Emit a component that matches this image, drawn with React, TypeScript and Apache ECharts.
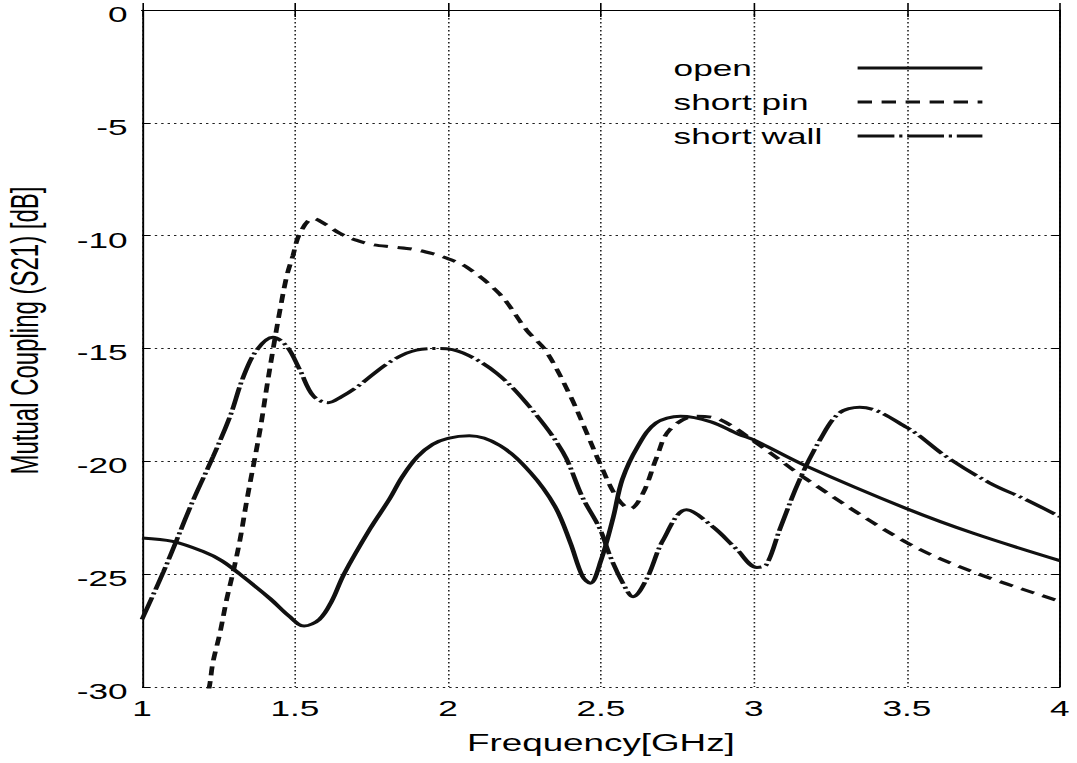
import React, { useEffect, useRef } from "react";
import * as echarts from "echarts";

// ---- data (frequency in GHz, coupling in dB) ----
const openFreq = [1.0, 1.1, 1.2, 1.26, 1.32, 1.42, 1.48, 1.53, 1.58, 1.62, 1.66, 1.745, 1.81, 1.85, 1.9, 1.95, 2.0, 2.07, 2.17, 2.27, 2.35, 2.4, 2.44, 2.465, 2.5, 2.54, 2.57, 2.62, 2.68, 2.76, 2.86, 2.95, 3.0, 3.17, 3.5, 3.72, 4.0];
const openDb = [-23.4, -23.55, -24.0, -24.4, -25.0, -26.1, -26.85, -27.3, -27.0, -26.2, -25.0, -23.0, -21.65, -20.7, -19.8, -19.25, -18.98, -18.87, -19.3, -20.5, -22.0, -23.6, -25.1, -25.4, -24.4, -22.5, -20.8, -19.35, -18.3, -18.0, -18.25, -18.8, -19.05, -20.2, -22.1, -23.2, -24.4];

const pinFreq = [1.205, 1.22, 1.232, 1.255, 1.277, 1.298, 1.32, 1.343, 1.386, 1.408, 1.428, 1.451, 1.473, 1.493, 1.516, 1.56, 1.6, 1.647, 1.7, 1.755, 1.82, 1.886, 1.95, 1.997, 2.062, 2.17, 2.258, 2.32, 2.4, 2.454, 2.497, 2.552, 2.595, 2.638, 2.683, 2.725, 2.81, 2.889, 3.02, 3.173, 3.5, 3.716, 4.0];
const pinDb = [-30.8, -30.0, -28.9, -27.6, -26.1, -24.9, -23.5, -21.7, -18.6, -16.7, -15.07, -13.3, -11.8, -10.9, -9.9, -9.24, -9.5, -9.9, -10.2, -10.4, -10.5, -10.6, -10.8, -11.0, -11.4, -12.6, -14.2, -15.1, -17.1, -18.75, -20.1, -21.6, -22.1, -21.4, -19.8, -18.6, -18.0, -18.15, -19.3, -20.8, -23.6, -24.9, -26.2];

const wallFreq = [1.0, 1.07, 1.113, 1.168, 1.232, 1.288, 1.33, 1.375, 1.428, 1.473, 1.516, 1.56, 1.608, 1.65, 1.703, 1.81, 1.897, 1.974, 2.05, 2.16, 2.268, 2.376, 2.44, 2.497, 2.53, 2.572, 2.605, 2.65, 2.703, 2.78, 2.866, 2.944, 3.01, 3.04, 3.085, 3.15, 3.216, 3.28, 3.346, 3.5, 3.63, 3.77, 3.89, 4.0];
const wallDb = [-27.0, -24.9, -23.5, -21.7, -19.8, -18.0, -16.3, -15.07, -14.5, -14.9, -15.95, -17.1, -17.4, -17.15, -16.7, -15.6, -15.07, -15.0, -15.2, -16.1, -17.6, -19.6, -21.6, -23.0, -24.2, -25.4, -26.0, -25.2, -23.5, -22.15, -22.9, -23.9, -24.7, -24.6, -23.0, -20.8, -19.05, -17.85, -17.6, -18.5, -19.8, -20.95, -21.7, -22.45];

const seriesNames = ["open", "short pin", "short wall"];
const xTickMin = 1, xTickMax = 4, xTickStep = 0.5;
const yTickMin = -30, yTickMax = 0, yTickStep = 5;

const zip = (a: number[], b: number[]) => a.map((v, i) => [v, b[i]]);

const S = 1.6; // horizontal stretch of the picture
const W = 1077, H = 763;
const W0 = W / S;
const FONT = '"Liberation Sans", Arial, Helvetica, sans-serif';
const INK = "#111";
const dashes: any[] = ["solid", [9, 6], [23, 3, 2, 3]];

export default function App() {
  const ref = useRef<HTMLDivElement>(null);
  useEffect(() => {
    if (!ref.current) return;
    const chart = echarts.init(ref.current, null, { renderer: "svg" });
    const axisCommon = {
      type: "value" as const,
      axisLine: { show: true, lineStyle: { color: "#000", width: 1.2 } },
      axisTick: { show: true, inside: true, lineStyle: { color: "#000", width: 1 } },
    };
    const grid = {
      left: 88.75,
      right: W0 - 662.5,
      top: 10,
      bottom: 76,
      containLabel: false,
      outerBoundsMode: "none",
    };
    const datasets = [zip(openFreq, openDb), zip(pinFreq, pinDb), zip(wallFreq, wallDb)];
    const legendY = [68, 102, 136];
    const graphic: any[] = [];
    seriesNames.forEach((n, i) => {
      graphic.push({
        type: "text",
        x: 421,
        y: legendY[i],
        style: { text: n, fill: "#000", fontSize: 22, fontFamily: FONT, align: "left", verticalAlign: "middle" },
      });
      graphic.push({
        type: "line",
        shape: { x1: 536, y1: legendY[i], x2: 614, y2: legendY[i] },
        style: { stroke: INK, lineWidth: 3, lineDash: i === 0 ? null : dashes[i] },
      });
    });
    chart.setOption({
      animation: false,
      backgroundColor: "#fff",
      grid,
      xAxis: [
        {
          ...axisCommon,
          position: "bottom",
          min: xTickMin,
          max: xTickMax,
          interval: xTickStep,
          axisTick: { ...axisCommon.axisTick, length: 7 },
          axisLabel: { color: "#000", fontSize: 22, fontFamily: FONT, margin: 10 },
          splitLine: { show: true, lineStyle: { color: "#222", width: 1, type: [1.5, 2.5] } },
          name: "Frequency[GHz]",
          nameLocation: "middle",
          nameGap: 45,
          nameTextStyle: { color: "#000", fontSize: 23, fontFamily: FONT },
        },
        {
          ...axisCommon,
          position: "top",
          min: xTickMin,
          max: xTickMax,
          interval: xTickStep,
          axisTick: { ...axisCommon.axisTick, length: 7 },
          axisLabel: { show: false },
          splitLine: { show: false },
        },
      ],
      yAxis: [
        {
          ...axisCommon,
          position: "left",
          min: yTickMin,
          max: yTickMax,
          interval: yTickStep,
          axisTick: { ...axisCommon.axisTick, length: 5 },
          axisLabel: {
            color: "#000",
            fontSize: 22,
            lineHeight: 8,
            verticalAlign: "top",
            fontFamily: FONT,
            margin: 9,
          },
          splitLine: { show: true, lineStyle: { color: "#222", width: 1, type: [1.5, 2.5] } },
          name: "Mutual Coupling (S21) [dB]",
          nameLocation: "middle",
          nameGap: 61,
          nameRotate: 90,
          nameTextStyle: { color: "#000", fontSize: 24, fontFamily: FONT, padding: [0, 0, 0, 36] },
        },
        {
          ...axisCommon,
          position: "right",
          min: yTickMin,
          max: yTickMax,
          interval: yTickStep,
          axisTick: { ...axisCommon.axisTick, length: 5 },
          axisLabel: { show: false },
          splitLine: { show: false },
        },
      ],
      graphic,
      series: seriesNames.map((n, i) => ({
        name: n,
        type: "line",
        data: datasets[i],
        showSymbol: false,
        smooth: 0.35,
        clip: true,
        lineStyle: { color: INK, width: 3, type: dashes[i] },
      })),
    });
    return () => chart.dispose();
  }, []);
  return (
    <div style={{ position: "fixed", left: 0, top: 0, width: W, height: H, overflow: "hidden", background: "#fff" }}>
      <div ref={ref} style={{ width: W0, height: H, transform: `scaleX(${S})`, transformOrigin: "0 0" }} />
    </div>
  );
}
